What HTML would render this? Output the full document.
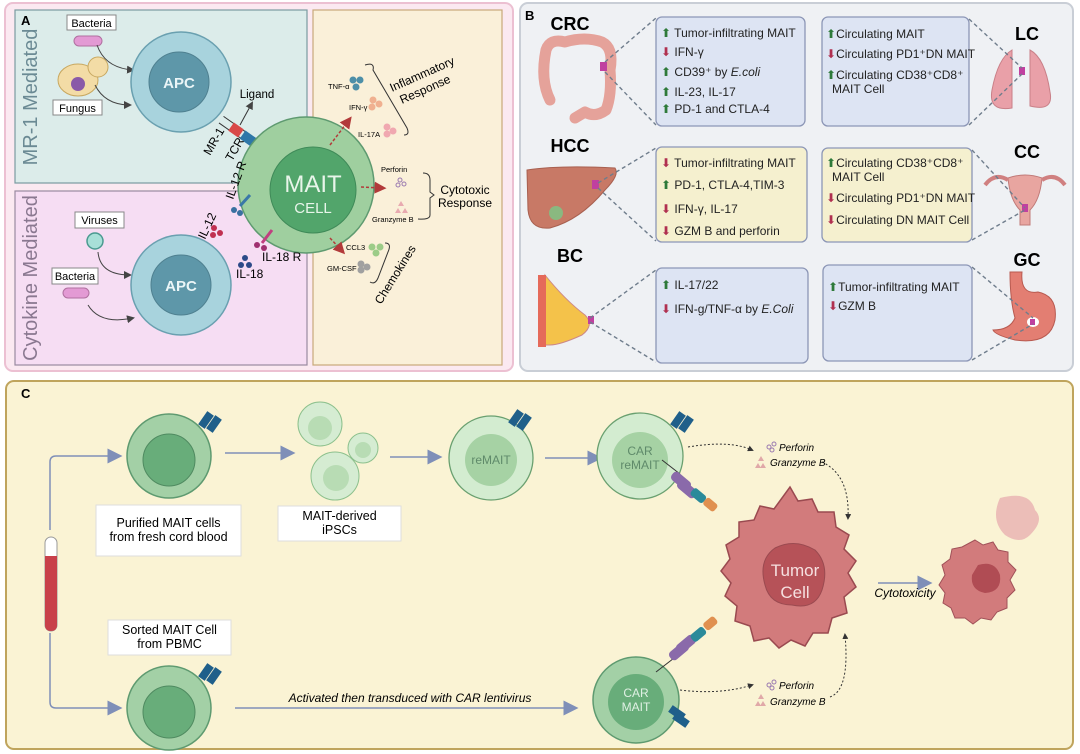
<!DOCTYPE html>
<html><head><meta charset="utf-8"><style>
html,body{margin:0;padding:0;background:#fff;}
svg{display:block;font-family:"Liberation Sans",sans-serif;}
</style></head><body>
<svg width="1080" height="754" viewBox="0 0 1080 754" xmlns="http://www.w3.org/2000/svg">
<defs>
<marker id="ah" markerWidth="8" markerHeight="8" refX="6" refY="4" orient="auto"><path d="M0,0 L8,4 L0,8 z" fill="#444"/></marker>
<marker id="ar" markerWidth="8" markerHeight="8" refX="5" refY="4" orient="auto"><path d="M0,0 L8,4 L0,8 z" fill="#b23a3a"/></marker>
<marker id="ab" markerWidth="10" markerHeight="10" refX="3" refY="5" orient="auto"><path d="M0,0 L10,5 L0,10 z" fill="#7f8fb8"/></marker>
<marker id="ak" markerWidth="6" markerHeight="6" refX="4" refY="3" orient="auto"><path d="M0,0 L6,3 L0,6 z" fill="#333"/></marker>
</defs>
<rect width="1080" height="754" fill="#fff"/>

<!-- PANEL A -->
<rect x="5" y="3" width="508" height="368" rx="8" fill="#fbe9f1" stroke="#ecc0d2" stroke-width="2"/>
<rect x="15" y="10" width="292" height="173" fill="#dcecea" stroke="#7a9ba0" stroke-width="1.2"/>
<rect x="15" y="191" width="292" height="174" fill="#f6ddf3" stroke="#9a8aa0" stroke-width="1.2"/>
<rect x="313" y="10" width="189" height="355" fill="#faf0d9" stroke="#c7a87a" stroke-width="1.2"/>
<text x="21" y="25" font-size="13" font-weight="bold">A</text>
<text transform="translate(37,97) rotate(-90)" text-anchor="middle" font-size="20" fill="#6b8a94">MR-1 Mediated</text>
<text transform="translate(37,278) rotate(-90)" text-anchor="middle" font-size="20" fill="#8a7890">Cytokine  Mediated</text>

<rect x="67" y="15" width="49" height="15" fill="#fff" stroke="#888"/><text x="91.5" y="27" font-size="11" text-anchor="middle">Bacteria</text>
<rect x="74" y="36" width="28" height="10" rx="5" fill="#e39ad4" stroke="#b070a0"/>
<ellipse cx="78" cy="80" rx="20" ry="16" fill="#f3dca6" stroke="#c8a860"/><circle cx="98" cy="67" r="10" fill="#f3dca6" stroke="#c8a860"/><circle cx="78" cy="84" r="7" fill="#8a5aa8"/>
<rect x="53" y="100" width="49" height="15" fill="#fff" stroke="#888"/><text x="77.5" y="112" font-size="11" text-anchor="middle">Fungus</text>
<path d="M97,45 Q105,68 133,70" fill="none" stroke="#444" marker-end="url(#ah)"/>
<path d="M95,85 Q105,105 130,105" fill="none" stroke="#444" marker-end="url(#ah)"/>

<circle cx="181" cy="82" r="50" fill="#a8d3dd" stroke="#6aa0b0" stroke-width="1.5"/>
<circle cx="179" cy="82" r="30" fill="#5e97a9" stroke="#4f8090"/>
<text x="179" y="88" font-size="15" font-weight="bold" fill="#eaf5f7" text-anchor="middle">APC</text>

<g transform="translate(236,130) rotate(35)">
<line x1="-18" y1="-4" x2="34" y2="-4" stroke="#333"/><line x1="-18" y1="4" x2="34" y2="4" stroke="#333"/>
<rect x="-6" y="-5" width="12" height="10" fill="#d94848"/><rect x="8" y="-5" width="16" height="10" fill="#2e77a8"/>
</g>
<line x1="240" y1="125" x2="252" y2="103" stroke="#333" marker-end="url(#ah)"/>
<text x="257" y="98" font-size="11.5" text-anchor="middle">Ligand</text>
<text transform="translate(210,156) rotate(-60)" font-size="12">MR-1</text>
<text transform="translate(232,162) rotate(-60)" font-size="12">TCR</text>

<circle cx="306" cy="185" r="68" fill="#9fcf9f" stroke="#5e9a70" stroke-width="1.5"/>
<circle cx="313" cy="190" r="43" fill="#52a56b" stroke="#3f8a58"/>
<text x="313" y="192" font-size="24" fill="#e8f5ea" text-anchor="middle">MAIT</text>
<text x="313" y="213" font-size="15" fill="#e8f5ea" text-anchor="middle">CELL</text>

<line x1="240" y1="206" x2="250" y2="195" stroke="#3a78a8" stroke-width="3"/>
<circle cx="234" cy="210" r="3" fill="#3a70a0"/><circle cx="240" cy="213" r="3" fill="#3a70a0"/>
<text transform="translate(233,200) rotate(-70)" font-size="12">IL-12 R</text>
<text transform="translate(205,240) rotate(-65)" font-size="12">IL-12</text>
<circle cx="214" cy="228" r="3" fill="#c03050"/><circle cx="220" cy="233" r="3" fill="#c03050"/><circle cx="213" cy="235" r="3" fill="#c03050"/>
<line x1="262" y1="243" x2="272" y2="230" stroke="#c04080" stroke-width="3"/>
<circle cx="257" cy="245" r="3" fill="#a03070"/><circle cx="264" cy="248" r="3" fill="#a03070"/>
<text x="262" y="261" font-size="12">IL-18 R</text>
<circle cx="245" cy="258" r="3" fill="#2c4a88"/><circle cx="241" cy="265" r="3" fill="#2c4a88"/><circle cx="249" cy="265" r="3" fill="#2c4a88"/>
<text x="236" y="278" font-size="12">IL-18</text>

<rect x="75" y="212" width="49" height="16" fill="#fff" stroke="#888"/><text x="99.5" y="224" font-size="11" text-anchor="middle">Viruses</text>
<circle cx="95" cy="241" r="8" fill="#a8e0d8" stroke="#4a9a90" stroke-width="1.5"/>
<rect x="52" y="268" width="46" height="16" fill="#fff" stroke="#888"/><text x="75" y="280" font-size="11" text-anchor="middle">Bacteria</text>
<rect x="63" y="288" width="26" height="10" rx="5" fill="#e39ad4" stroke="#b070a0"/>
<path d="M98,252 Q100,275 130,275" fill="none" stroke="#444" marker-end="url(#ah)"/>
<path d="M88,305 Q100,325 133,318" fill="none" stroke="#444" marker-end="url(#ah)"/>
<circle cx="181" cy="285" r="50" fill="#a8d3dd" stroke="#6aa0b0" stroke-width="1.5"/>
<circle cx="181" cy="285" r="30" fill="#5e97a9" stroke="#4f8090"/>
<text x="181" y="291" font-size="15" font-weight="bold" fill="#eaf5f7" text-anchor="middle">APC</text>

<line x1="330" y1="145" x2="349" y2="120" stroke="#b23a3a" stroke-width="1.5" stroke-dasharray="3,2" marker-end="url(#ar)"/>
<line x1="361" y1="187" x2="382" y2="188" stroke="#b23a3a" stroke-width="1.5" stroke-dasharray="3,2" marker-end="url(#ar)"/>
<line x1="330" y1="238" x2="342" y2="251" stroke="#b23a3a" stroke-width="1.5" stroke-dasharray="3,2" marker-end="url(#ar)"/>
<text x="328" y="89" font-size="7.5">TNF-α</text>
<circle cx="353" cy="80" r="3.5" fill="#4d8fa8"/><circle cx="360" cy="80" r="3.5" fill="#4d8fa8"/><circle cx="356" cy="87" r="3.5" fill="#4d8fa8"/>
<text x="349" y="110" font-size="7.5">IFN-γ</text>
<circle cx="373" cy="100" r="3.5" fill="#f0b090"/><circle cx="379" cy="104" r="3.5" fill="#f0b090"/><circle cx="372" cy="107" r="3.5" fill="#f0b090"/>
<text x="358" y="137" font-size="7.5">IL-17A</text>
<circle cx="387" cy="127" r="3.5" fill="#f0a8b0"/><circle cx="393" cy="131" r="3.5" fill="#f0a8b0"/><circle cx="387" cy="134" r="3.5" fill="#f0a8b0"/>
<path d="M365,65 Q375,62 373,70 L407,128 Q410,135 404,135" fill="none" stroke="#333"/>
<text transform="translate(392,92) rotate(-24)" font-size="12">Inflammatory</text>
<text transform="translate(402,104) rotate(-24)" font-size="12">Response</text>
<text x="381" y="172" font-size="7.5">Perforin</text>
<circle cx="400" cy="180" r="2" fill="none" stroke="#9a7ab0"/><circle cx="404" cy="184" r="2" fill="none" stroke="#9a7ab0"/><circle cx="398" cy="185" r="2" fill="none" stroke="#9a7ab0"/>
<path d="M398,206 l3,-5 l3,5 z M402,213 l3,-5 l3,5z M395,213 l3,-5 l3,5z" fill="#e8aab0"/>
<text x="372" y="222" font-size="7.5">Granzyme B</text>
<path d="M423,173 Q430,173 430,180 L430,192 L434,195 L430,198 L430,215 Q430,220 418,219" fill="none" stroke="#333"/>
<text x="465" y="194" font-size="12" text-anchor="middle">Cytotoxic</text>
<text x="465" y="207" font-size="12" text-anchor="middle">Response</text>
<text x="346" y="250" font-size="7.5">CCL3</text>
<circle cx="372" cy="247" r="3.5" fill="#9ccc88"/><circle cx="380" cy="247" r="3.5" fill="#9ccc88"/><circle cx="376" cy="253" r="3.5" fill="#9ccc88"/>
<text x="327" y="271" font-size="7.5">GM-CSF</text>
<circle cx="361" cy="264" r="3.5" fill="#a0a0a0"/><circle cx="367" cy="267" r="3.5" fill="#a0a0a0"/><circle cx="361" cy="270" r="3.5" fill="#a0a0a0"/>
<path d="M385,243 Q392,243 388,252 L378,278 Q375,285 370,282" fill="none" stroke="#333"/>
<text transform="translate(381,305) rotate(-58)" font-size="12">Chemokines</text>

<!-- PANEL B -->
<rect x="520" y="3" width="553" height="368" rx="8" fill="#eff1f4" stroke="#c9ced6" stroke-width="2"/>
<text x="525" y="20" font-size="13" font-weight="bold">B</text>
<g font-size="18" font-weight="bold" text-anchor="middle">
<text x="570" y="30">CRC</text><text x="1027" y="40">LC</text>
<text x="570" y="152">HCC</text><text x="1027" y="158">CC</text>
<text x="570" y="262">BC</text><text x="1027" y="266">GC</text>
</g>
<path d="M550,100 Q540,80 546,50 Q550,38 565,42 Q585,36 602,42 Q614,48 610,70 Q612,95 606,110 Q595,118 585,112 L575,118" fill="none" stroke="#e5a29a" stroke-width="11" stroke-linejoin="round" stroke-linecap="round"/>
<rect x="600" y="62" width="7" height="9" fill="#c040a0"/>
<path d="M1012,50 Q998,58 992,90 Q988,112 1012,108 Z" fill="#e9a0a8" stroke="#c98088"/>
<path d="M1030,50 Q1045,58 1050,92 Q1054,112 1030,106 Z" fill="#e9a0a8" stroke="#c98088"/>
<rect x="1019" y="67" width="6" height="8" fill="#c040a0"/>
<path d="M527,170 Q560,165 615,168 Q620,175 605,190 Q580,220 550,228 Q530,230 528,210 Z" fill="#c87966" stroke="#a86050"/>
<circle cx="556" cy="213" r="7" fill="#8ab880"/><rect x="592" y="180" width="7" height="9" fill="#c040a0"/>
<path d="M1008,178 Q1025,172 1042,178 Q1040,200 1030,210 L1030,225 L1020,225 L1020,210 Q1010,200 1008,178Z" fill="#e8a5a0" stroke="#c07a78"/>
<path d="M1008,180 Q995,172 985,185 M1042,180 Q1055,172 1065,185" fill="none" stroke="#d08080" stroke-width="4"/>
<rect x="1022" y="204" width="6" height="8" fill="#c040a0"/>
<path d="M545,275 Q565,300 585,315 Q595,325 582,335 Q560,345 550,345 L545,345 Z" fill="#f4c24a" stroke="#c88"/>
<rect x="538" y="275" width="8" height="72" fill="#e56a5a"/>
<rect x="588" y="316" width="6" height="8" fill="#c040a0"/>
<path d="M1022,272 Q1020,295 1038,292 Q1058,296 1055,320 Q1050,345 1015,340 Q995,335 993,330 Q1010,330 1015,318 Q1010,300 1010,272 Z" fill="#e37e72" stroke="#b85a50"/>
<ellipse cx="1033" cy="322" rx="6" ry="5" fill="#fff"/><rect x="1030" y="319" width="5" height="6" fill="#c040a0"/>

<g stroke="#6f7d8c" stroke-width="1.4" stroke-dasharray="4,3" fill="none">
<line x1="605" y1="62" x2="656" y2="18"/><line x1="605" y1="72" x2="656" y2="125"/>
<line x1="969" y1="19" x2="1022" y2="68"/><line x1="969" y1="125" x2="1022" y2="74"/>
<line x1="598" y1="183" x2="656" y2="148"/><line x1="598" y1="188" x2="656" y2="241"/>
<line x1="972" y1="150" x2="1025" y2="208"/><line x1="972" y1="240" x2="1025" y2="210"/>
<line x1="590" y1="318" x2="656" y2="270"/><line x1="590" y1="322" x2="656" y2="362"/>
<line x1="972" y1="267" x2="1033" y2="318"/><line x1="972" y1="360" x2="1033" y2="324"/>
</g>
<g stroke="#8c96b6" stroke-width="1.3">
<rect x="656" y="17" width="149" height="109" rx="6" fill="#dde4f3"/>
<rect x="822" y="17" width="147" height="109" rx="6" fill="#dde4f3"/>
<rect x="656" y="147" width="151" height="95" rx="6" fill="#f5f0cf"/>
<rect x="822" y="148" width="150" height="94" rx="6" fill="#f5f0cf"/>
<rect x="656" y="268" width="152" height="95" rx="6" fill="#dde4f3"/>
<rect x="823" y="265" width="149" height="96" rx="6" fill="#dde4f3"/>
</g>
<g font-size="12" fill="#222">
<text x="661" y="37"><tspan fill="#2e7a3a">⬆</tspan> Tumor-infiltrating MAIT</text>
<text x="661" y="56"><tspan fill="#b03050">⬇</tspan> IFN-γ</text>
<text x="661" y="76"><tspan fill="#2e7a3a">⬆</tspan> CD39⁺ by <tspan font-style="italic">E.coli</tspan></text>
<text x="661" y="96"><tspan fill="#2e7a3a">⬆</tspan> IL-23, IL-17</text>
<text x="661" y="113"><tspan fill="#2e7a3a">⬆</tspan> PD-1 and CTLA-4</text>
<text x="826" y="38"><tspan fill="#2e7a3a">⬆</tspan>Circulating MAIT</text>
<text x="826" y="58"><tspan fill="#b03050">⬇</tspan>Circulating PD1⁺DN MAIT</text>
<text x="826" y="79"><tspan fill="#2e7a3a">⬆</tspan>Circulating CD38⁺CD8⁺</text>
<text x="832" y="93">MAIT Cell</text>
<text x="661" y="167"><tspan fill="#b03050">⬇</tspan> Tumor-infiltrating MAIT</text>
<text x="661" y="189"><tspan fill="#2e7a3a">⬆</tspan> PD-1, CTLA-4,TIM-3</text>
<text x="661" y="213"><tspan fill="#b03050">⬇</tspan> IFN-γ, IL-17</text>
<text x="661" y="235"><tspan fill="#b03050">⬇</tspan> GZM B and perforin</text>
<text x="826" y="167"><tspan fill="#2e7a3a">⬆</tspan>Circulating CD38⁺CD8⁺</text>
<text x="832" y="181">MAIT Cell</text>
<text x="826" y="202"><tspan fill="#b03050">⬇</tspan>Circulating PD1⁺DN MAIT</text>
<text x="826" y="224"><tspan fill="#b03050">⬇</tspan>Circulating DN MAIT Cell</text>
<text x="661" y="289"><tspan fill="#2e7a3a">⬆</tspan> IL-17/22</text>
<text x="661" y="313"><tspan fill="#b03050">⬇</tspan> IFN-g/TNF-α by <tspan font-style="italic">E.Coli</tspan></text>
<text x="828" y="291"><tspan fill="#2e7a3a">⬆</tspan>Tumor-infiltrating MAIT</text>
<text x="828" y="310"><tspan fill="#b03050">⬇</tspan>GZM B</text>
</g>

<!-- PANEL C -->
<rect x="6" y="381" width="1067" height="368" rx="8" fill="#faf3d4" stroke="#bfa45c" stroke-width="2"/>
<text x="21" y="398" font-size="13" font-weight="bold">C</text>
<path d="M50,530 L50,462 Q50,456 56,456 L112,456" fill="none" stroke="#7f8fb8" stroke-width="1.5" marker-end="url(#ab)"/>
<path d="M50,633 L50,702 Q50,708 56,708 L112,708" fill="none" stroke="#7f8fb8" stroke-width="1.5" marker-end="url(#ab)"/>
<rect x="45" y="537" width="12" height="94" rx="6" fill="#fff" stroke="#999"/>
<path d="M45,556 L57,556 L57,625 Q57,631 51,631 Q45,631 45,625 Z" fill="#c8404a"/>

<circle cx="169" cy="456" r="42" fill="#a3d0a6" stroke="#5e9a70" stroke-width="1.5"/>
<circle cx="169" cy="460" r="26" fill="#68ad7a" stroke="#4f8a60"/>
<circle cx="169" cy="708" r="42" fill="#a3d0a6" stroke="#5e9a70" stroke-width="1.5"/>
<circle cx="169" cy="712" r="26" fill="#68ad7a" stroke="#4f8a60"/>
<g fill="#1f5f8a">
<rect x="202" y="412" width="8" height="16" transform="rotate(35 206 420)"/><rect x="210" y="416" width="8" height="16" transform="rotate(35 214 424)"/>
<rect x="202" y="664" width="8" height="16" transform="rotate(35 206 672)"/><rect x="210" y="668" width="8" height="16" transform="rotate(35 214 676)"/>
</g>
<rect x="96" y="505" width="145" height="51" fill="#fff" stroke="#ddd"/>
<text x="168.5" y="527" font-size="12.5" text-anchor="middle">Purified MAIT cells</text>
<text x="168.5" y="541" font-size="12.5" text-anchor="middle">from fresh cord blood</text>
<rect x="108" y="620" width="123" height="35" fill="#fff" stroke="#ddd"/>
<text x="169.5" y="634" font-size="12.5" text-anchor="middle">Sorted MAIT Cell</text>
<text x="169.5" y="648" font-size="12.5" text-anchor="middle">from PBMC</text>
<line x1="225" y1="453" x2="285" y2="453" stroke="#7f8fb8" stroke-width="1.5" marker-end="url(#ab)"/>

<circle cx="320" cy="424" r="22" fill="#d5ecd2" stroke="#8cc08c"/><circle cx="320" cy="428" r="12" fill="#b8dcb4"/>
<circle cx="363" cy="448" r="15" fill="#d5ecd2" stroke="#8cc08c"/><circle cx="363" cy="450" r="8" fill="#b8dcb4"/>
<circle cx="335" cy="476" r="24" fill="#d5ecd2" stroke="#8cc08c"/><circle cx="336" cy="478" r="13" fill="#b8dcb4"/>
<rect x="278" y="506" width="123" height="35" fill="#fff" stroke="#ddd"/>
<text x="339.5" y="520" font-size="12.5" text-anchor="middle">MAIT-derived</text>
<text x="339.5" y="534" font-size="12.5" text-anchor="middle">iPSCs</text>
<line x1="390" y1="457" x2="432" y2="457" stroke="#7f8fb8" stroke-width="1.5" marker-end="url(#ab)"/>

<circle cx="491" cy="458" r="42" fill="#d3ecd0" stroke="#6aa070" stroke-width="1.3"/>
<circle cx="491" cy="460" r="26" fill="#a6d2a4"/>
<text x="491" y="464" font-size="12" fill="#5f8a6a" text-anchor="middle">reMAIT</text>
<line x1="545" y1="458" x2="592" y2="458" stroke="#7f8fb8" stroke-width="1.5" marker-end="url(#ab)"/>

<circle cx="640" cy="456" r="43" fill="#d3ecd0" stroke="#6aa070" stroke-width="1.3"/>
<circle cx="640" cy="460" r="28" fill="#a6d2a4"/>
<text x="640" y="455" font-size="12" fill="#5f8a6a" text-anchor="middle">CAR</text>
<text x="640" y="469" font-size="12" fill="#5f8a6a" text-anchor="middle">reMAIT</text>

<line x1="235" y1="708" x2="568" y2="708" stroke="#7f8fb8" stroke-width="1.5" marker-end="url(#ab)"/>
<text x="410" y="702" font-size="12" font-style="italic" text-anchor="middle">Activated then transduced with CAR lentivirus</text>

<circle cx="636" cy="700" r="43" fill="#a3d0a6" stroke="#5e9a70" stroke-width="1.5"/>
<circle cx="636" cy="702" r="28" fill="#68ad7a"/>
<text x="636" y="697" font-size="12" fill="#e0f0e4" text-anchor="middle">CAR</text>
<text x="636" y="711" font-size="12" fill="#e0f0e4" text-anchor="middle">MAIT</text>

<g fill="#1f5f8a">
<rect x="674" y="412" width="8" height="16" transform="rotate(35 678 420)"/><rect x="682" y="416" width="8" height="16" transform="rotate(35 686 424)"/>
<rect x="673" y="705" width="8" height="16" transform="rotate(-55 677 713)"/><rect x="677" y="712" width="8" height="16" transform="rotate(-55 681 720)"/>
<rect x="512" y="410" width="8" height="16" transform="rotate(35 516 418)"/><rect x="520" y="414" width="8" height="16" transform="rotate(35 524 422)"/>
</g>
<g>
<line x1="662" y1="460" x2="680" y2="474" stroke="#333"/>
<rect x="676" y="470" width="10" height="22" rx="4" fill="#8a6aaa" transform="rotate(-50 681 481)"/>
<rect x="682" y="478" width="10" height="22" rx="4" fill="#8a6aaa" transform="rotate(-50 687 489)"/>
<rect x="694" y="488" width="9" height="16" rx="3" fill="#2a8a9a" transform="rotate(-50 698 496)"/>
<rect x="706" y="498" width="9" height="14" rx="3" fill="#e09050" transform="rotate(-50 710 505)"/>
<line x1="656" y1="672" x2="678" y2="655" stroke="#333"/>
<rect x="674" y="640" width="10" height="22" rx="4" fill="#8a6aaa" transform="rotate(50 679 651)"/>
<rect x="681" y="633" width="10" height="22" rx="4" fill="#8a6aaa" transform="rotate(50 686 644)"/>
<rect x="694" y="626" width="9" height="16" rx="3" fill="#2a8a9a" transform="rotate(50 698 634)"/>
<rect x="706" y="616" width="9" height="14" rx="3" fill="#e09050" transform="rotate(50 710 623)"/>
</g>

<path d="M790,487 l8,14 l14,-2 l6,13 l16,0 l2,15 l13,8 l-5,14 l12,12 l-8,12 l8,14 l-12,10 l3,16 l-15,5 l-4,15 l-15,0 l-8,13 l-14,-6 l-12,8 l-10,-10 l-15,3 l-4,-15 l-15,-5 l2,-15 l-12,-10 l6,-13 l-10,-12 l9,-12 l-4,-14 l13,-8 l0,-15 l15,-2 l6,-14 l14,3 z" fill="#d27b7c" stroke="#9a4a50" stroke-width="1.5"/>
<path d="M775,548 Q795,538 815,550 Q830,565 822,590 Q815,610 792,605 Q770,605 765,585 Q758,560 775,548Z" fill="#b65258" stroke="#9a4a50"/>
<text x="795" y="576" font-size="17" fill="#f6e0e0" text-anchor="middle">Tumor</text>
<text x="795" y="598" font-size="17" fill="#f6e0e0" text-anchor="middle">Cell</text>

<path d="M688,447 Q730,440 752,450" fill="none" stroke="#333" stroke-dasharray="2,2" marker-end="url(#ak)"/>
<path d="M680,690 Q720,695 752,685" fill="none" stroke="#333" stroke-dasharray="2,2" marker-end="url(#ak)"/>
<path d="M822,462 Q850,475 848,518" fill="none" stroke="#333" stroke-dasharray="2,2" marker-end="url(#ak)"/>
<path d="M830,697 Q850,690 845,635" fill="none" stroke="#333" stroke-dasharray="2,2" marker-end="url(#ak)"/>
<g font-size="10" font-style="italic">
<text x="779" y="451">Perforin</text><text x="770" y="466">Granzyme B</text>
<text x="779" y="689">Perforin</text><text x="770" y="705">Granzyme B</text>
</g>
<g fill="none" stroke="#9a7ab0"><circle cx="769" cy="447" r="2"/><circle cx="774" cy="444" r="2"/><circle cx="772" cy="450" r="2"/><circle cx="769" cy="685" r="2"/><circle cx="774" cy="682" r="2"/><circle cx="772" cy="688" r="2"/></g>
<path d="M755,468 l3,-5 l3,5z M760,468 l3,-5 l3,5z M758,461 l3,-5 l3,5z M755,706 l3,-5 l3,5z M760,706 l3,-5 l3,5z M758,699 l3,-5 l3,5z" fill="#e0a8a8"/>

<line x1="878" y1="583" x2="922" y2="583" stroke="#7f8fb8" stroke-width="1.5" marker-end="url(#ab)"/>
<text x="905" y="597" font-size="12" font-style="italic" text-anchor="middle">Cytotoxicity</text>

<path d="M1000,498 Q1030,490 1035,510 Q1045,520 1030,535 Q1020,545 1005,535 Q990,520 1000,498Z" fill="#e9b0b0" opacity="0.8"/>
<path d="M975,540 l8,5 l10,-3 l5,8 l10,2 l0,10 l8,8 l-6,10 l5,10 l-8,8 l0,10 l-10,4 l-6,8 l-10,-2 l-8,6 l-8,-6 l-10,0 l-4,-10 l-8,-5 l2,-10 l-6,-8 l6,-10 l-3,-10 l8,-6 l2,-10 l10,-2 z" fill="#d27b7c" stroke="#a05058"/>
<path d="M978,565 Q995,560 1000,575 Q1002,592 985,593 Q970,590 972,575 Z" fill="#b04c54"/>
</svg>
</body></html>
